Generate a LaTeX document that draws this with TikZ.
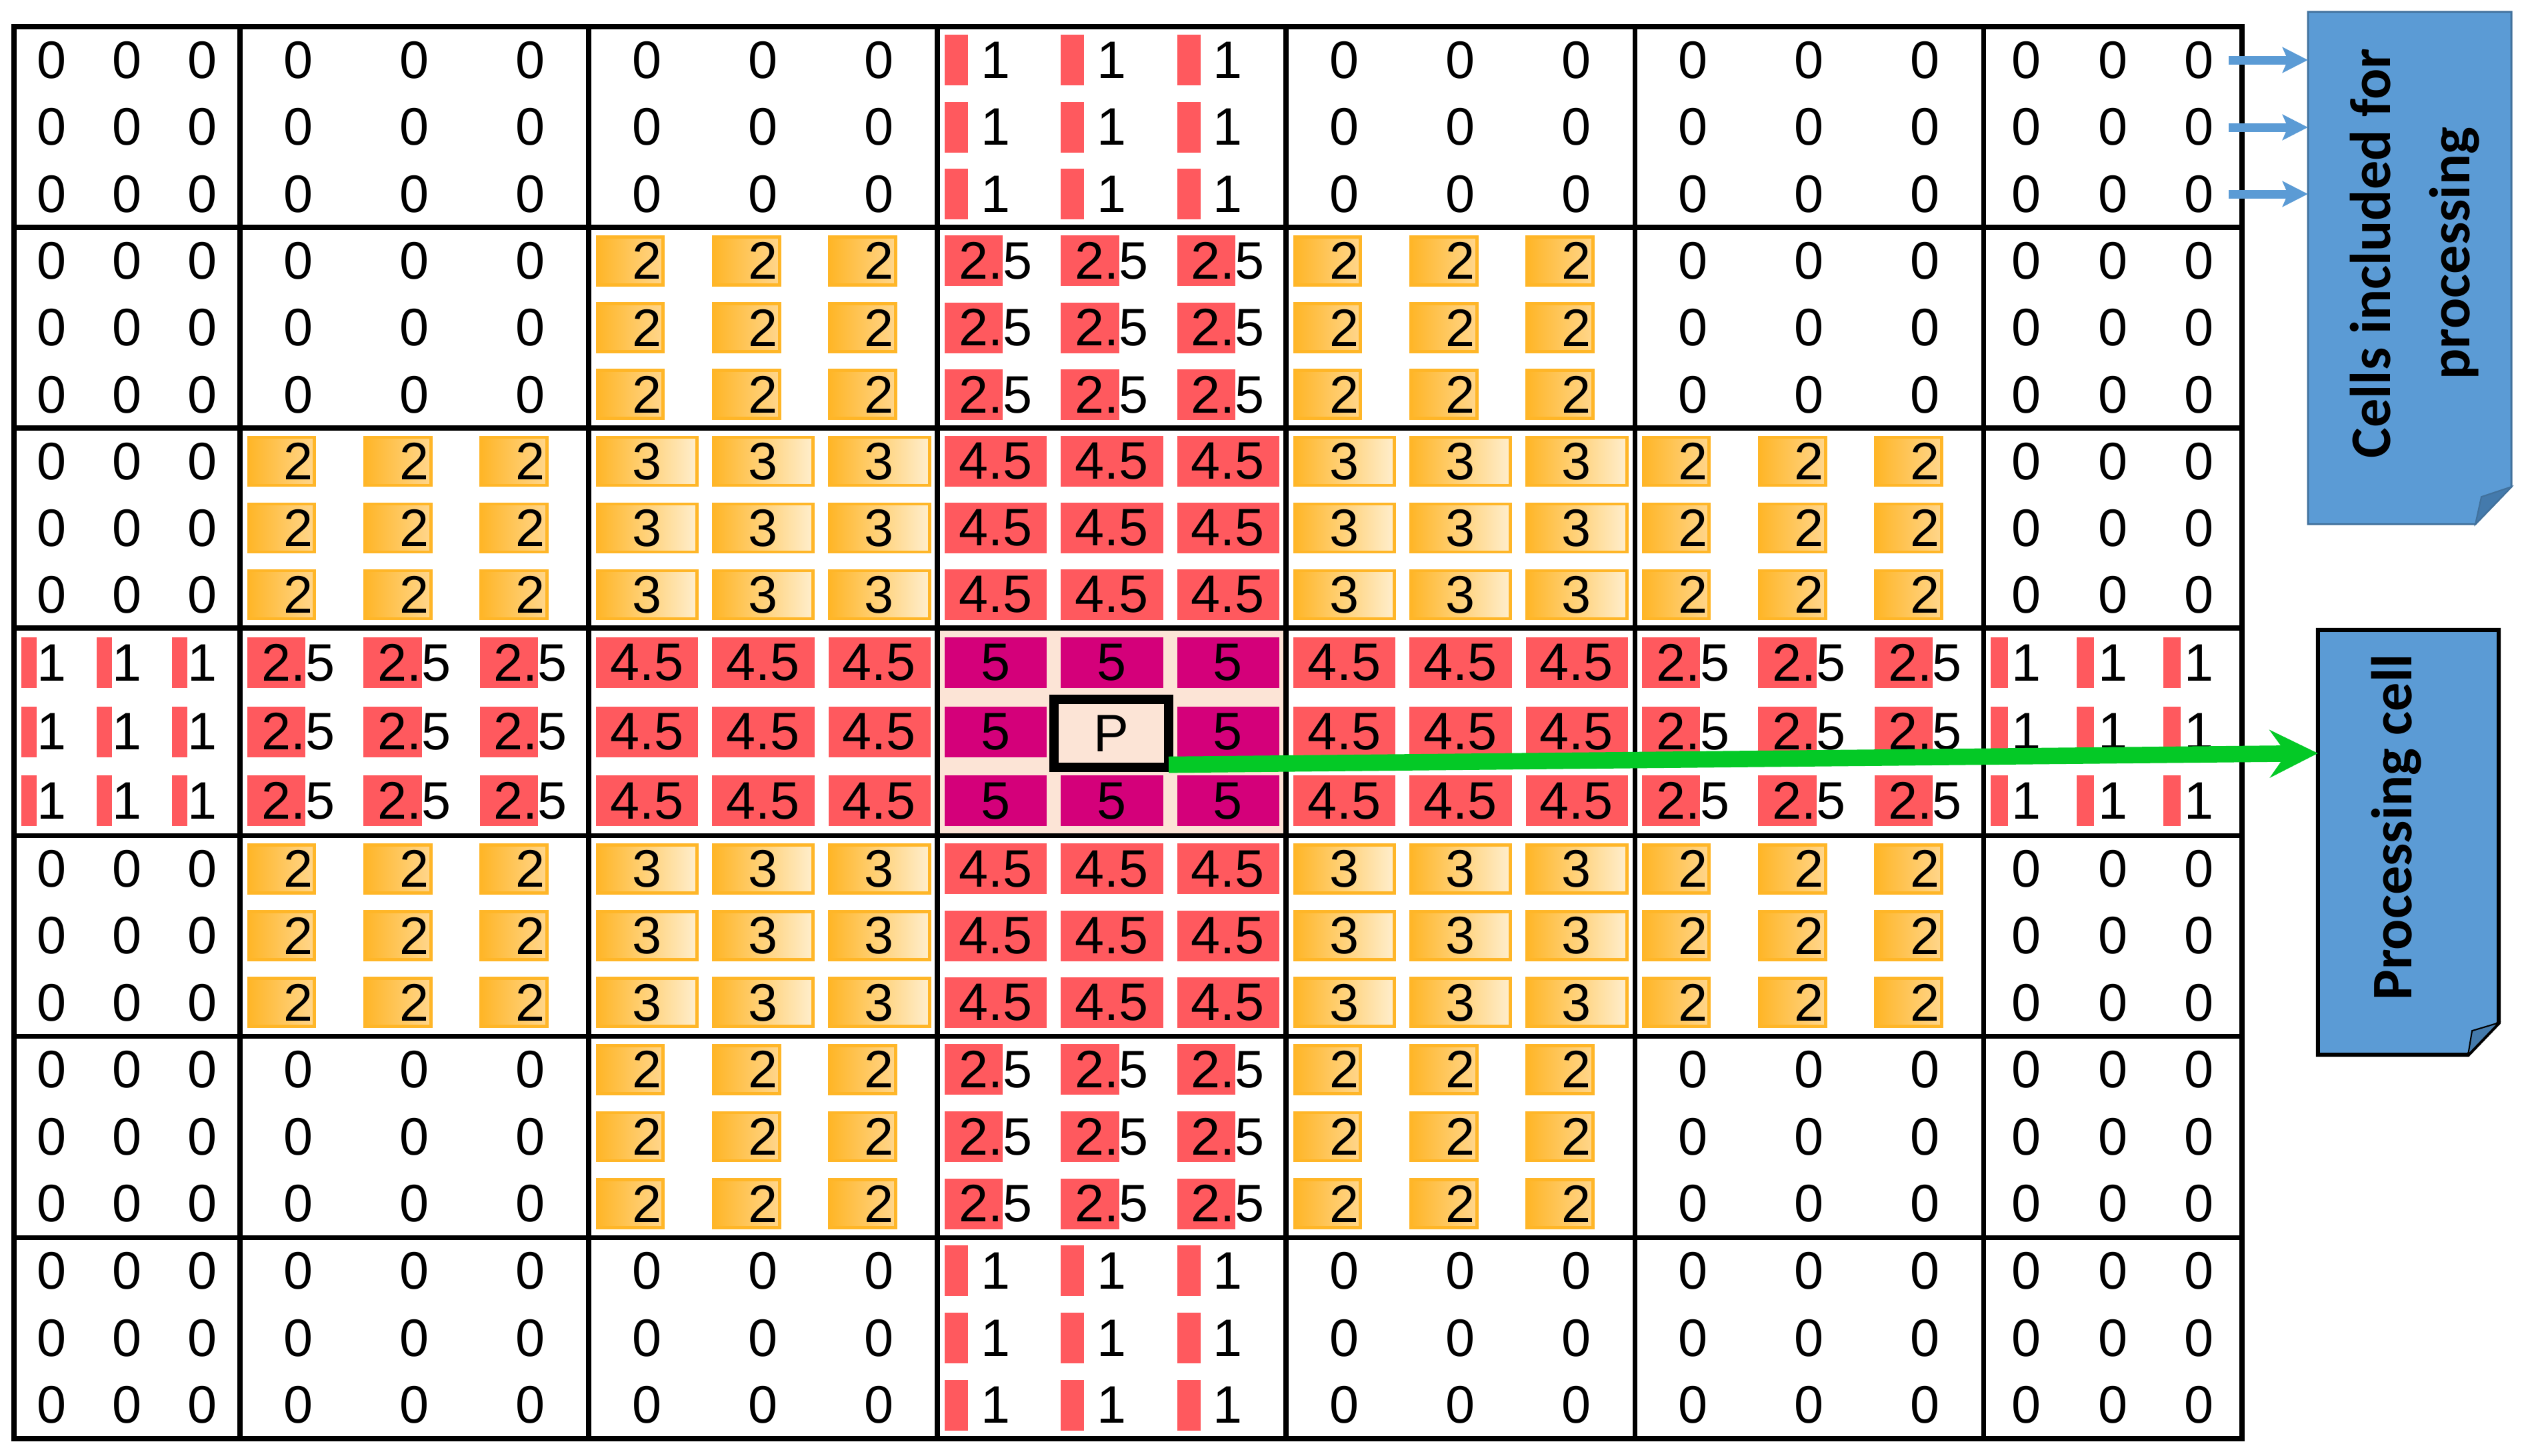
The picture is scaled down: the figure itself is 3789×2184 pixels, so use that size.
\documentclass[tikz,border=0pt]{standalone}
\usepackage{fontspec}
\setmainfont{Liberation Sans}
\newfontfamily\boxfont{Carlito}
\usetikzlibrary{arrows.meta}
\definecolor{barred}{RGB}{255,89,94}
\definecolor{barmag}{RGB}{212,0,122}
\definecolor{peachbg}{RGB}{252,228,214}
\definecolor{orgA}{RGB}{255,182,40}
\definecolor{orgB}{RGB}{255,238,205}
\definecolor{orgC}{RGB}{255,214,140}
\definecolor{boxblue}{RGB}{91,155,213}
\definecolor{boxedge}{RGB}{65,113,156}
\definecolor{folddark}{RGB}{68,122,172}
\definecolor{arrgreen}{RGB}{4,201,38}
\tikzset{
  num/.style={inner sep=0pt, font=\fontsize{22.5}{27}\selectfont, text=black},
  orgbarb/.style={left color=orgA, right color=orgC, draw=orgA, line width=1.4pt},
  orgbard/.style={left color=orgA, right color=orgB, draw=orgA, line width=1.4pt},
  gridline/.style={line width=2pt, draw=black},
  notebox/.style={fill=boxblue, draw=boxedge, line width=0.8pt, line join=miter},
  notebox2/.style={fill=boxblue, draw=black, line width=1.7pt, line join=miter},
  foldtri/.style={fill=folddark, draw=boxedge, line width=0.6pt},
  boxlabel/.style={rotate=90, align=center, text=black, inner sep=0pt,
    font=\boxfont\bfseries\fontsize{24.5}{34}\selectfont},
  bluearr/.style={draw=boxblue, line width=3.7pt,
    -{Stealth[length=0.38cm, width=0.38cm, inset=0.08cm]}},
  greenarr/.style={draw=arrgreen, line width=7pt,
    -{Stealth[length=0.72cm, width=0.71cm, inset=0.25cm]}},
}
\newcommand\drawblock[3]{%
  \pgfmathsetmacro\xa{{21,360,883,1406,1929,2452,2975,3363}[#2]}%
  \pgfmathsetmacro\xb{{21,360,883,1406,1929,2452,2975,3363}[#2+1]}%
  \pgfmathsetmacro\ya{{40,341,642,942,1253,1554,1856,2158}[#1]}%
  \pgfmathsetmacro\yb{{40,341,642,942,1253,1554,1856,2158}[#1+1]}%
  \pgfmathsetmacro\cw{(\xb-\xa)/3}%
  \pgfmathsetmacro\ch{(\yb-\ya)/3}%
  \ifnum#3=6 \fill[peachbg] (\xa,\ya) rectangle (\xb,\yb);\fi
  \foreach \i in {0,1,2}{%
    \foreach \j in {0,1,2}{%
      \pgfmathsetmacro\cx{\xa+(\j+0.5)*\cw}%
      \pgfmathsetmacro\cy{\ya+(\i+0.5)*\ch}%
      \pgfmathsetmacro\bl{\xa+\j*\cw+11}%
      \pgfmathsetmacro\bt{\cy-38}%
      \pgfmathsetmacro\bb{\cy+38}%
      \def\doit{1}%
      \ifnum#3=6 \ifnum\i=1 \ifnum\j=1 \def\doit{0}\fi\fi\fi
      \ifnum\doit=1
        \ifcase#3
          \def\txt{0}%
        \or \fill[barred] (\bl,\bt) rectangle ({\bl+0.2*\cw},\bb); \def\txt{1}%
        \or \path[orgbarb] ({\bl+2},{\bt+2}) rectangle ({\bl+0.59*\cw-2},{\bb-2}); \def\txt{2}%
        \or \fill[barred] (\bl,\bt) rectangle ({\bl+0.5*\cw},\bb); \def\txt{2.5}%
        \or \path[orgbard] ({\bl+2},{\bt+2}) rectangle ({\bl+0.88*\cw-2},{\bb-2}); \def\txt{3}%
        \or \fill[barred] (\bl,\bt) rectangle ({\bl+0.88*\cw},\bb); \def\txt{4.5}%
        \or \fill[barmag] (\bl,\bt) rectangle ({\bl+0.88*\cw},\bb); \def\txt{5}%
        \fi
        \node[num] (c-#1-#2-\i-\j) at (\cx,\cy) {\txt};
      \fi
    }}%
}
\begin{document}
\begin{tikzpicture}[x=0.01cm, y=-0.01cm]
  \fill[white] (0,0) rectangle (3789,2184);
  \useasboundingbox (0,0) rectangle (3789,2184);
  % cell contents
  \foreach \t [count=\c from 0] in {0,0,0,1,0,0,0} {\drawblock{0}{\c}{\t}}
  \foreach \t [count=\c from 0] in {0,0,2,3,2,0,0} {\drawblock{1}{\c}{\t}}
  \foreach \t [count=\c from 0] in {0,2,4,5,4,2,0} {\drawblock{2}{\c}{\t}}
  \foreach \t [count=\c from 0] in {1,3,5,6,5,3,1} {\drawblock{3}{\c}{\t}}
  \foreach \t [count=\c from 0] in {0,2,4,5,4,2,0} {\drawblock{4}{\c}{\t}}
  \foreach \t [count=\c from 0] in {0,0,2,3,2,0,0} {\drawblock{5}{\c}{\t}}
  \foreach \t [count=\c from 0] in {0,0,0,1,0,0,0} {\drawblock{6}{\c}{\t}}
  % grid lines
  \foreach \x in {360,883,1406,1929,2452,2975} \draw[gridline] (\x,40) -- (\x,2158);
  \foreach \y in {341,642,942,1253,1554,1856} \draw[gridline] (21,\y) -- (3363,\y);
  \draw[gridline, line width=2.2pt] (21,40) rectangle (3363,2158);
  % processing cell
  \node[num, draw=black, line width=4pt, minimum width=1.72cm, minimum height=1.02cm,
        fill=peachbg] (P) at (1667,1100) {P};
  % box 1
  \node[inner sep=0pt, outer sep=0pt, minimum width=3.05cm, minimum height=7.68cm] (box1) at (3614.5,402) {};
  \path[notebox] (box1.north west) -- (box1.north east) -- ([yshift=0.56cm]box1.south east)
     -- ([xshift=-0.54cm]box1.south east) -- (box1.south west) -- cycle;
  \path[foldtri] ([xshift=-0.54cm]box1.south east) -- ([yshift=0.56cm]box1.south east)
     -- ([xshift=-0.45cm,yshift=0.41cm]box1.south east) -- cycle;
  \node[boxlabel] (box1label) at (3622,380) {Cells included for\\processing};
  % box 2
  \node[inner sep=0pt, outer sep=0pt, minimum width=2.71cm, minimum height=6.37cm] (box2) at (3612.5,1263.5) {};
  \path[notebox2] (box2.north west) -- (box2.north east) -- ([yshift=0.48cm]box2.south east)
     -- ([xshift=-0.46cm]box2.south east) -- (box2.south west) -- cycle;
  \path[foldtri, draw=black] ([xshift=-0.46cm]box2.south east) -- ([yshift=0.48cm]box2.south east)
     -- ([xshift=-0.40cm,yshift=0.36cm]box2.south east) -- cycle;
  \node[boxlabel] (box2label) at (3595,1241) {Processing cell};
  % blue arrows
  \coordinate (ba1) at (3343,90);
  \coordinate (ba2) at (3343,191);
  \coordinate (ba3) at (3343,291);
  \draw[bluearr] (ba1) -- (ba1 -| box1.west);
  \draw[bluearr] (ba2) -- (ba2 -| box1.west);
  \draw[bluearr] (ba3) -- (ba3 -| box1.west);
  % green arrow
  \draw[greenarr] ([xshift=-0.07cm,yshift=0.11cm]P.south east) -- ([yshift=1.335cm]box2.west);
\end{tikzpicture}
\end{document}
